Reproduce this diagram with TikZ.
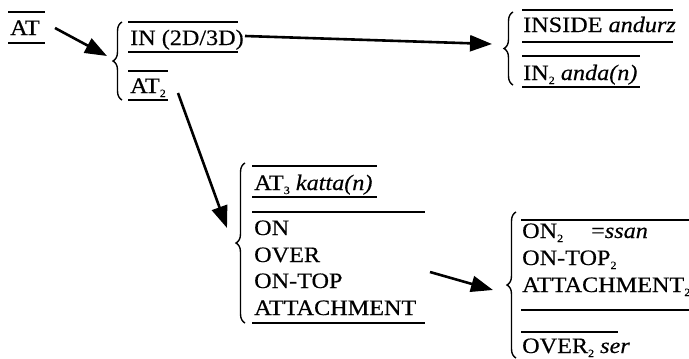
\documentclass[tikz,border=0pt]{standalone}
\usepackage{fontspec}
\setmainfont{Liberation Serif}[FakeStretch=1.1,FakeBold=0.4]
\usetikzlibrary{decorations.pathreplacing,arrows.meta}
\newcommand{\sbs}[1]{\raisebox{-4pt}{\fontsize{11}{11}\selectfont #1}}
\begin{document}
\begin{tikzpicture}[x=1pt,y=-1pt,
 txt/.style={anchor=base west, inner sep=0pt, font=\fontsize{22}{22}\selectfont},
 rule/.style={line width=1.2pt},
 arr/.style={line width=2.6pt, -{Triangle[length=22pt,width=16pt]}},
 brc/.style={line width=1.4pt, decorate, decoration={brace, amplitude=9pt}}]
\useasboundingbox (0,0) rectangle (689,359);
% texts
\node[txt] (at) at (10,35) {AT};
\node[txt] (in) at (130,45) {IN (2D/3D)};
\node[txt] (at2) at (130,93) {AT\sbs{2}};
\node[txt] (inside) at (523,32) {INSIDE \textit{andurz}};
\node[txt] (in2) at (523,80) {IN\sbs{2} \textit{anda(n)}};
\node[txt] (at3) at (254,190) {AT\sbs{3} \textit{katta(n)}};
\node[txt] (on) at (254,235) {ON};
\node[txt] (over) at (254,262) {OVER};
\node[txt] (ontop) at (254,288) {ON-TOP};
\node[txt] (att) at (254,315) {ATTACHMENT};
\node[txt] (on2) at (522,238) {ON\sbs{2}\hspace{28pt}=\textit{ssan}};
\node[txt] (ontop2) at (522,265) {ON-TOP\sbs{2}};
\node[txt] (att2) at (522,292) {ATTACHMENT\sbs{2}};
\node[txt] (over2) at (522,353) {OVER\sbs{2} \textit{ser}};
% rules
\draw[rule] (8,12) -- (45,12) (8,43) -- (45,43);
\draw[rule] (128,22) -- (238,22) (128,52) -- (238,52);
\draw[rule] (128,71) -- (168,71) (128,100) -- (168,100);
\draw[rule] (522,10) -- (673,10) (522,42) -- (673,42);
\draw[rule] (522,56) -- (640,56) (522,87) -- (640,87);
\draw[rule] (252,166) -- (377,166) (252,197) -- (377,197);
\draw[rule] (252,212) -- (425,212) (252,323) -- (425,323);
\draw[rule] (521,220) -- (689,220) (521,310) -- (689,310);
\draw[rule] (521,332) -- (618,332);
% braces
\coordinate (b1t) at (122,22); \coordinate (b1b) at (122,100);
\coordinate (b2t) at (513,12); \coordinate (b2b) at (513,85);
\coordinate (b3t) at (245,163); \coordinate (b3b) at (245,323);
\coordinate (b4t) at (516,212); \coordinate (b4b) at (516,358);
\draw[brc] (b1b) -- (b1t);
\draw[brc] (b2b) -- (b2t);
\draw[brc] (b3b) -- (b3t);
\draw[brc] (b4b) -- (b4t);
% arrows
\coordinate (a1s) at (55,28); \coordinate (a1e) at (107,56);
\coordinate (a2s) at (245,36); \coordinate (a2e) at (492,44);
\coordinate (a3s) at (178,93); \coordinate (a3e) at (227,228);
\coordinate (a4s) at (430,272); \coordinate (a4e) at (493,290);
\draw[arr] (a1s) -- (a1e);
\draw[arr] (a2s) -- (a2e);
\draw[arr] (a3s) -- (a3e);
\draw[arr] (a4s) -- (a4e);
\end{tikzpicture}
\end{document}
